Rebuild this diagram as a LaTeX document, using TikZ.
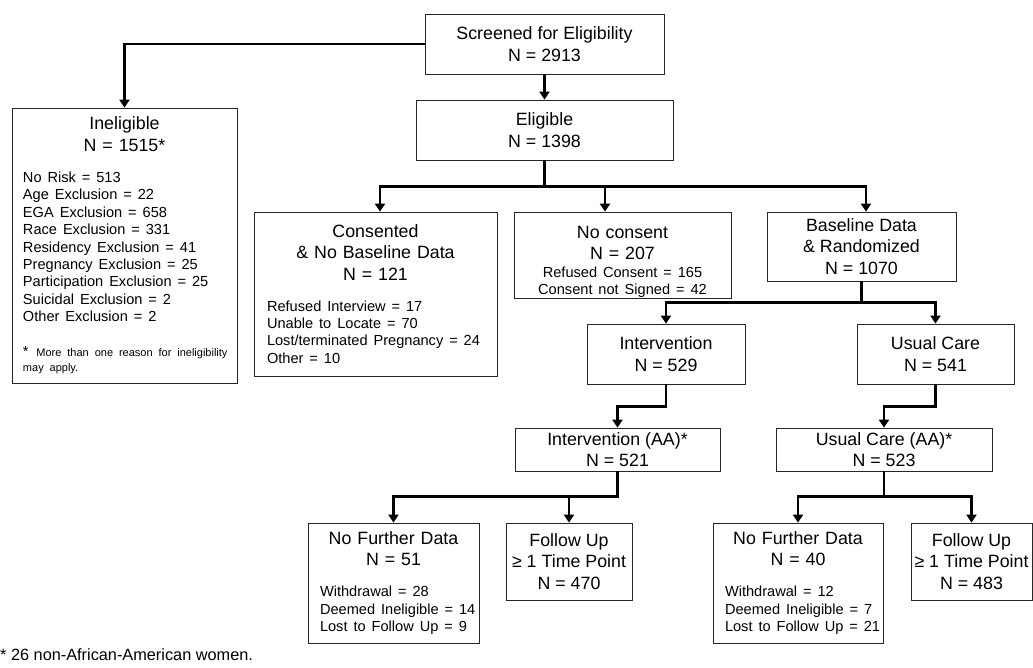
\documentclass[tikz,border=0pt]{standalone}
\usepackage{fontspec}
\setmainfont{Liberation Sans}
\usepackage{tikz}
\usetikzlibrary{arrows.meta}
\usetikzlibrary{positioning}

\newcommand{\hdsize}{\fontsize{17.8}{21.3}\selectfont}
\newcommand{\lstsize}{\fontsize{14.6}{17.4}\selectfont}
\newcommand{\ntsize}{\fontsize{11}{15}\selectfont}

\begin{document}
\begin{tikzpicture}[
    x=1pt, y=-1pt,
    listbox/.style={draw=black!85, line width=0.8pt, inner sep=0pt,
      font=\hdsize},
    box/.style={listbox, align=center},
    link/.style={line width=2.4pt, line join=miter,
      -{Triangle[length=8pt, width=10pt]}}]

    \useasboundingbox (0,0) rectangle (1033,667);

    % screening
    \node [box, minimum width=239pt, minimum height=60pt] (screened)
      at (544.5,44) {Screened for Eligibility\\ N = 2913};
    \node [box, minimum width=257pt, minimum height=60pt] (elig)
      at (544.5,130) {Eligible\\ N = 1398};
    \node [listbox, minimum width=225pt, minimum height=275pt, text width=213pt]
      (inelig) at (124.5,245.5) {%
      \centering Ineligible\\ N = 1515*\par
      \vspace{14pt}\raggedright\leftskip=5pt\lstsize
      No Risk = 513\\ Age Exclusion = 22\\ EGA Exclusion = 658\\
      Race Exclusion = 331\\ Residency Exclusion = 41\\
      Pregnancy Exclusion = 25\\ Participation Exclusion = 25\\
      Suicidal Exclusion = 2\\ Other Exclusion = 2\par
      \vspace{20pt}\ntsize
      \mbox{{\lstsize *}\ \,More than one reason for ineligibility}\\
      may apply.\par};

    % consent
    \node [listbox, minimum width=243pt, minimum height=164pt, text width=225pt]
      (consent) at (375.5,294) {%
      \centering Consented\\ \& No Baseline Data\\ N = 121\par
      \vspace{13.5pt}\raggedright\leftskip=4pt\lstsize
      Refused Interview = 17\\ Unable to Locate = 70\\
      Lost/terminated Pregnancy = 24\\ Other = 10\par};
    \node [listbox, minimum width=217pt, minimum height=86pt, text width=209pt]
      (nocons) at (622.5,255) {%
      \centering\rule{0pt}{26pt}No consent\\ N = 207\par
      \lstsize Refused Consent = 165\\ Consent not Signed = 42\par};
    \node [box, minimum width=189pt, minimum height=69pt] (baseline)
      at (861.5,246.5) {Baseline Data\\ \& Randomized\\ N = 1070};

    % arms
    \node [box, minimum width=158pt, minimum height=60pt] (interv)
      at (666,354) {Intervention\\ N = 529};
    \node [box, minimum width=157pt, minimum height=60pt] (usual)
      at (935.5,354) {Usual Care\\ N = 541};
    \node [box, minimum width=205pt, minimum height=43pt] (intaa)
      at (617.5,449.5) {Intervention (AA)*\\ N = 521};
    \node [box, minimum width=216pt, minimum height=43pt] (ucaa)
      at (884,449.5) {Usual Care (AA)*\\ N = 523};

    % follow up
    \node [listbox, minimum width=171pt, minimum height=120pt, text width=169pt]
      (nfdint) at (393.5,583) {%
      \centering No Further Data\\ N = 51\par
      \vspace{13.5pt}\raggedright\leftskip=11pt\lstsize
      Withdrawal = 28\\ Deemed Ineligible = 14\\ Lost to Follow Up = 9\par};
    \node [box, minimum width=126pt, minimum height=77pt] (fuint)
      at (569,561.5) {Follow Up\\ ≥ 1 Time Point\\ N = 470};
    \node [listbox, minimum width=170pt, minimum height=120pt, text width=168pt]
      (nfduc) at (798,583) {%
      \centering No Further Data\\ N = 40\par
      \vspace{13.5pt}\raggedright\leftskip=11pt\lstsize
      Withdrawal = 12\\ Deemed Ineligible = 7\\ Lost to Follow Up = 21\par};
    \node [box, minimum width=121pt, minimum height=77pt] (fuuc)
      at (971.5,561.5) {Follow Up\\ ≥ 1 Time Point\\ N = 483};

    % footnote
    \node [anchor=west, inner sep=0pt, font=\fontsize{16.3}{19}\selectfont]
      (note) at (0,655) {* 26 non-African-American women.};

    % connectors
    \draw [link] (screened.west) -| (inelig.north);
    \draw [link] (screened.south) -- (elig.north);
    \foreach \t/\s in {consent/4.5, nocons/-17.5, baseline/4.5} {
      \draw [link] (elig.south) -- ++(0,26) -| ([xshift=\s pt]\t.north);
    }
    \foreach \t in {interv, usual} {
      \draw [link] (baseline.south) -- ++(0,21) -| (\t.north);
    }
    \draw [link] (interv.south) -- ++(0,22) -| (intaa.north);
    \draw [link] (usual.south) -- ++(0,22) -| (ucaa.north);
    \foreach \t in {nfdint, fuint} {
      \draw [link] (intaa.south) -- ++(0,25) -| (\t.north);
    }
    \foreach \t in {nfduc, fuuc} {
      \draw [link] (ucaa.south) -- ++(0,25) -| (\t.north);
    }

  \end{tikzpicture}
\end{document}
